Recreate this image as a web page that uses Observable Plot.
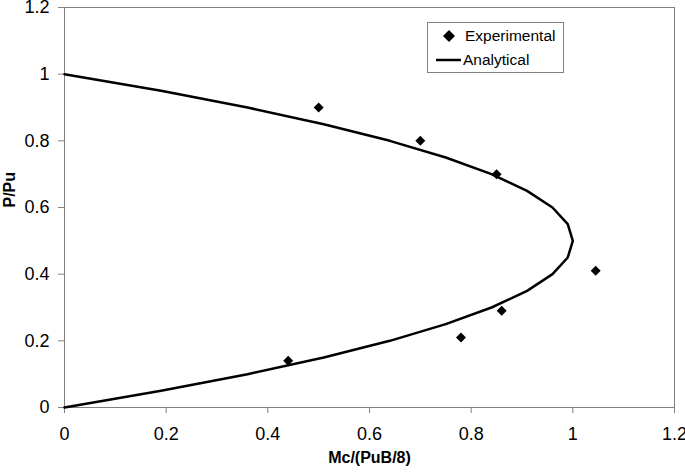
<!DOCTYPE html>
<html>
<head>
<meta charset="utf-8">
<script src="https://cdn.jsdelivr.net/npm/d3@7"></script>
<script src="https://cdn.jsdelivr.net/npm/@observablehq/plot@0.6"></script>
<style>
  html, body { margin: 0; padding: 0; background: #fff; }
  #wrap { position: relative; width: 685px; height: 473px; font-family: "Liberation Sans", Arial, sans-serif; }
  #legend { position: absolute; left: 427px; top: 22px; width: 135px; height: 49px; border: 1px solid #808080; background: #fff; font-size: 15.5px; color: #000; }
  #legend svg { position: absolute; top: 0; }
  #legend span { position: absolute; white-space: nowrap; }
</style>
</head>
<body>
<div id="wrap"></div>
<script>
// Experimental data
const expM = [0.5, 0.7, 0.85, 1.045, 0.86, 0.78, 0.44];
const expP = [0.9, 0.8, 0.7, 0.41, 0.29, 0.21, 0.14];

// Analytical curve
const anaP = [0, 0.05, 0.1, 0.15, 0.2, 0.25, 0.3, 0.35, 0.4, 0.45, 0.5, 0.55, 0.6, 0.65, 0.7, 0.75, 0.8, 0.85, 0.9, 0.95, 1.0];
const anaM = [0, 0.19, 0.36, 0.51, 0.64, 0.75, 0.84, 0.91, 0.96, 0.99, 1.0, 0.99, 0.96, 0.91, 0.84, 0.75, 0.64, 0.51, 0.36, 0.19, 0];

const xTicks = [0, 0.2, 0.4, 0.6, 0.8, 1, 1.2];
const yTicks = [0, 0.2, 0.4, 0.6, 0.8, 1, 1.2];
const xTitle = "Mc/(PuB/8)";
const yTitle = "P/Pu";
const legendLabels = ["Experimental", "Analytical"];

const expData = expM.map((m, i) => ({m, p: expP[i]}));
const anaData = anaM.map((m, i) => ({m, p: anaP[i]}));

const chart = Plot.plot({
  width: 685,
  height: 473,
  marginLeft: 64,
  marginRight: 11,
  marginTop: 7,
  marginBottom: 66,
  style: {fontFamily: "Liberation Sans, Arial, sans-serif", fontSize: "17px", color: "#000", background: "#fff", overflow: "visible"},
  x: {domain: [0, 1.2]},
  y: {domain: [0, 1.2]},
  marks: [
    Plot.frame({stroke: "#808080", strokeWidth: 1}),
    Plot.axisX({ticks: xTicks, tickFormat: d => String(d), label: null, tickSize: 6, tickPadding: 14, stroke: "#808080", fill: "#000", fontSize: 18}),
    Plot.axisY({ticks: yTicks, tickFormat: d => String(d), label: null, tickSize: 6, tickPadding: 9, stroke: "#808080", fill: "#000", fontSize: 18}),
    Plot.line(anaData, {x: "m", y: "p", stroke: "#000", strokeWidth: 2.5}),
    Plot.dot(expData, {x: "m", y: "p", symbol: "diamond2", fill: "#000", stroke: "none", r: 4.5}),
    Plot.text([xTitle], {frameAnchor: "bottom", dy: 55, fontWeight: "bold", fontSize: 16, fill: "#000"}),
    Plot.text([yTitle], {frameAnchor: "left", dx: -55, rotate: -90, fontWeight: "bold", fontSize: 16, fill: "#000"})
  ]
});

const wrap = document.getElementById("wrap");
wrap.appendChild(chart);

const legend = document.createElement("div");
legend.id = "legend";
legend.innerHTML = `
  <svg width="20" height="20" style="left:11px;top:3px"><path d="M10,4 L16,10 L10,16 L4,10 Z" fill="#000"/></svg>
  <span style="left:37px;top:3px;line-height:20px">${legendLabels[0]}</span>
  <svg width="30" height="20" style="left:8px;top:27px"><line x1="0" y1="10" x2="25" y2="10" stroke="#000" stroke-width="2.5"/></svg>
  <span style="left:35px;top:27px;line-height:20px">${legendLabels[1]}</span>
`;
wrap.appendChild(legend);
</script>
</body>
</html>
